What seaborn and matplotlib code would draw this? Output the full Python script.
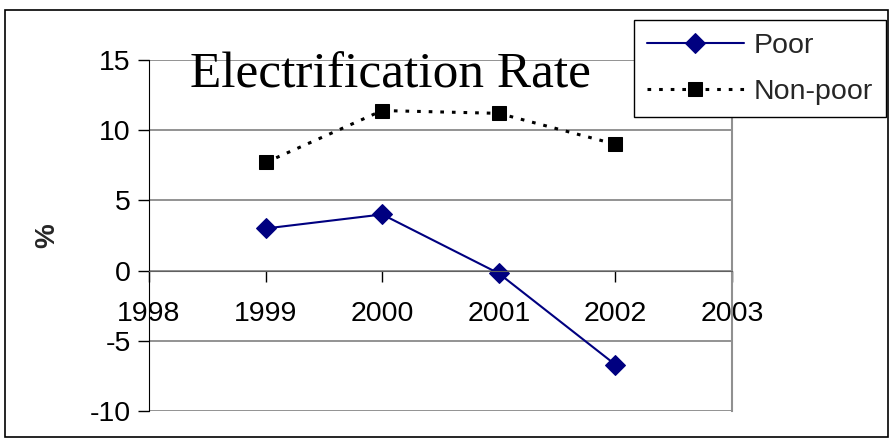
import matplotlib
matplotlib.use("Agg")
import matplotlib.pyplot as plt
import seaborn as sns
import pandas as pd

years = [1999, 2000, 2001, 2002]
poor = [3.0, 4.0, -0.2, -6.7]
non_poor = [7.7, 11.4, 11.2, 9.0]
yticks = [-10, -5, 0, 5, 10, 15]
xticks = [1998, 1999, 2000, 2001, 2002, 2003]

df = pd.DataFrame({"year": years, "Poor": poor, "Non-poor": non_poor})

sns.set_style("white")
plt.rcParams["font.family"] = ["Liberation Sans", "DejaVu Sans"]
plt.rcParams["axes.unicode_minus"] = False

fig = plt.figure(figsize=(8.92, 4.41), dpi=100)
ax = fig.add_axes([149 / 892, 30 / 441, 583 / 892, 351 / 441])

sns.lineplot(data=df, x="year", y="Poor", ax=ax, color="#000080", lw=1.5,
             marker="D", markersize=10, markeredgecolor="#000080", label="Poor")
sns.lineplot(data=df, x="year", y="Non-poor", ax=ax, color="black", lw=2.2,
             linestyle=(0, (1.2, 2.6)), marker="s", markersize=10,
             markeredgecolor="black", label="Non-poor")

ax.set_xlim(1998, 2003)
ax.set_ylim(-10, 15)
ax.set_yticks(yticks)
ax.set_xticks(xticks)
ax.set_xticklabels([str(x) for x in xticks])
for y in yticks:
    ax.axhline(y, color="#808080", lw=1.2, zorder=0)

# x axis crosses at zero
ax.spines["bottom"].set_position(("data", 0))
ax.spines["bottom"].set_color("#606060")
ax.spines["left"].set_color("black")
ax.spines["right"].set_color("#909090")
ax.spines["right"].set_linewidth(1.5)
ax.spines["top"].set_visible(False)
ax.tick_params(axis="x", direction="out", length=8, width=1, pad=14,
               labelsize=20.5, colors="black", bottom=True)
ax.tick_params(axis="y", direction="out", length=8, width=1, pad=5,
               labelsize=20.5, left=True, colors="black")

ax.set_xlabel("")
ax.set_ylabel("%", fontsize=20, fontweight="bold")
ax.yaxis.set_label_coords(-0.152, 0.5)

ax.text(0.07, 1.023, "Electrification Rate", transform=ax.transAxes,
        ha="left", va="top", fontsize=37, family="Liberation Serif",
        color="black")

ax.get_legend().remove()
fig.legend(loc="upper right", bbox_to_anchor=(0.993, 0.955), fontsize=20.5,
           frameon=True, fancybox=False, edgecolor="black", framealpha=1,
           borderaxespad=0, handlelength=3.4, borderpad=0.45,
           labelspacing=0.7, handletextpad=0.35)

# outer chart border
fig.patches.append(plt.Rectangle((5 / 892, 4 / 441), 883 / 892, 427 / 441,
                                 transform=fig.transFigure, fill=False,
                                 edgecolor="black", lw=1.2))

fig.savefig("out.png", dpi=100)
